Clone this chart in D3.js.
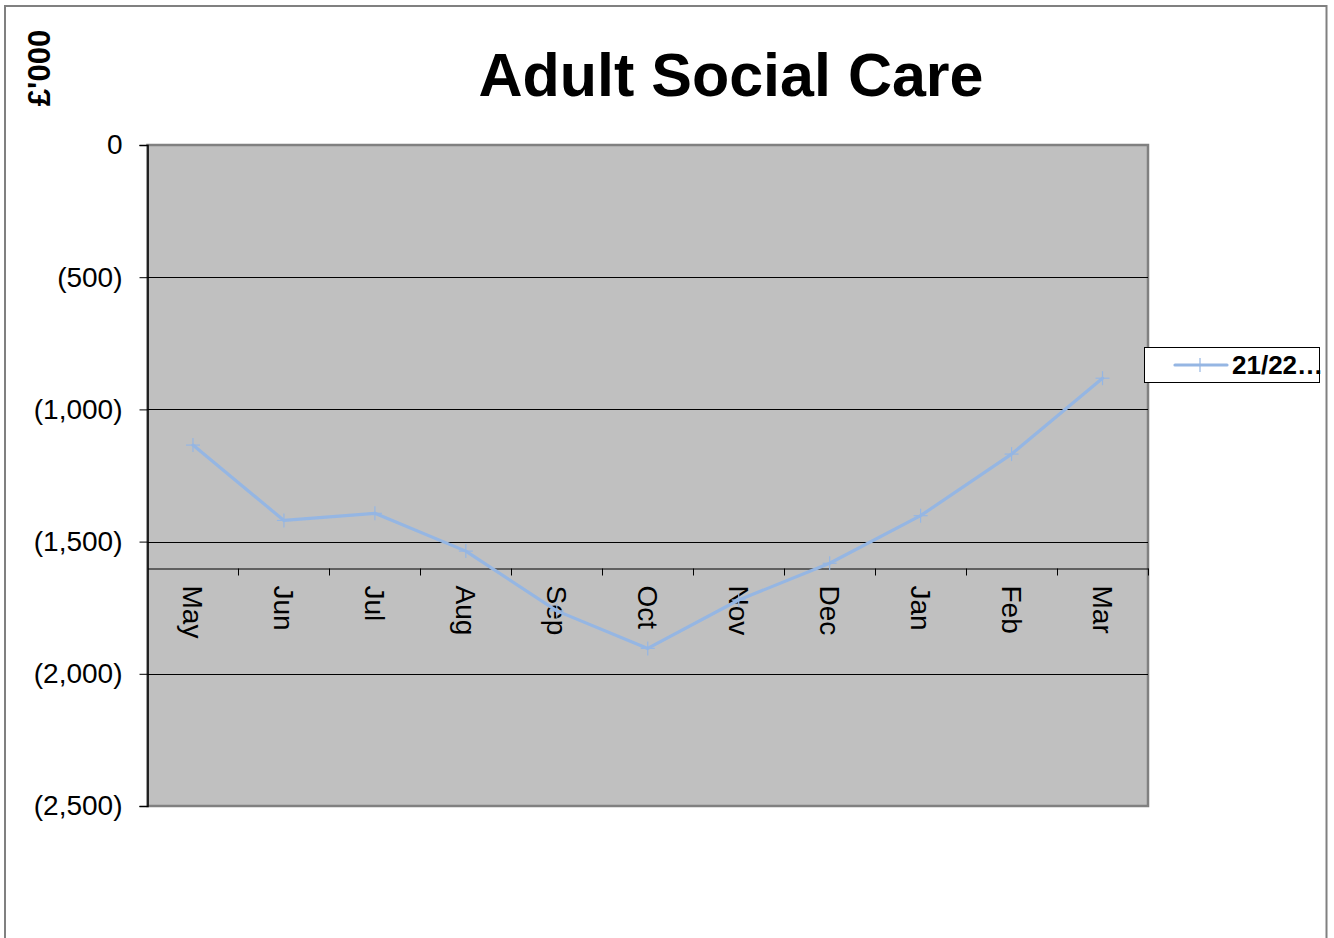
<!DOCTYPE html>
<html>
<head>
<meta charset="utf-8">
<script src="https://cdn.jsdelivr.net/npm/d3@7"></script>
<style>
  html, body { margin: 0; padding: 0; background: #ffffff; }
  svg { display: block; font-family: Arial, "Liberation Sans", sans-serif; }
</style>
</head>
<body>
<svg id="chart" width="1334" height="938"></svg>
<script>
// Monthly variance, Adult Social Care (£'000)
const months = ["May", "Jun", "Jul", "Aug", "Sep", "Oct", "Nov", "Dec", "Jan", "Feb", "Mar"];
const values2122 = [-1135, -1420, -1393, -1536, -1762, -1904, -1721, -1582, -1402, -1169, -882];
const yTicks = [0, -500, -1000, -1500, -2000, -2500];
const seriesName = "21/22…";
const axisCross = -1600;

const svg = d3.select("#chart");
const plot = { left: 147.5, right: 1148, top: 145, bottom: 806 };

const x = d3.scaleBand().domain(months).range([plot.left, plot.right]).padding(0);
const y = d3.scaleLinear().domain([0, -2500]).range([plot.top, plot.bottom]);

// outer chart frame
svg.append("rect")
  .attr("x", 5).attr("y", 6).attr("width", 1321.5).attr("height", 960)
  .attr("fill", "#ffffff").attr("stroke", "#808080").attr("stroke-width", 2);

// title
svg.append("text")
  .attr("x", 731).attr("y", 96)
  .attr("text-anchor", "middle")
  .attr("font-size", 61).attr("font-weight", "bold")
  .text("Adult Social Care");

// y axis title
svg.append("text")
  .attr("transform", "translate(50,68) rotate(-90)")
  .attr("text-anchor", "middle")
  .attr("font-size", 31).attr("font-weight", "bold")
  .text("£'000");

// plot background
svg.append("rect")
  .attr("x", plot.left).attr("y", plot.top)
  .attr("width", plot.right - plot.left).attr("height", plot.bottom - plot.top)
  .attr("fill", "#c0c0c0").attr("stroke", "#808080").attr("stroke-width", 2.5);

// horizontal gridlines
svg.append("g")
  .selectAll("line")
  .data(yTicks.filter(v => v !== 0 && v !== -2500))
  .join("line")
  .attr("x1", plot.left).attr("x2", plot.right)
  .attr("y1", d => Math.round(y(d)) + 0.5).attr("y2", d => Math.round(y(d)) + 0.5)
  .attr("stroke", "#000").attr("stroke-width", 1);

// value axis
const fmt = d3.format(",");
const yAxis = svg.append("g")
  .attr("transform", `translate(${plot.left},0)`)
  .call(d3.axisLeft(y).tickValues(yTicks).tickSize(8).tickPadding(17)
    .tickFormat(v => v < 0 ? `(${fmt(-v)})` : fmt(v)));
yAxis.select(".domain").attr("stroke", "#000").attr("stroke-width", 1.5);
yAxis.selectAll(".tick line").attr("stroke", "#000");
yAxis.selectAll(".tick text").attr("font-size", 28).attr("fill", "#000")
  .attr("font-family", "Arial, 'Liberation Sans', sans-serif");

// category axis crossing at -1600
const yc = Math.round(y(axisCross)) + 0.5;
const xAxis = svg.append("g")
  .attr("transform", `translate(0,${yc})`)
  .call(d3.axisBottom(x).tickSize(0).tickSizeOuter(0));
xAxis.select(".domain").attr("stroke", "#000").attr("stroke-width", 1.2);
xAxis.selectAll(".tick text")
  .attr("font-size", 28).attr("fill", "#000")
  .attr("font-family", "Arial, 'Liberation Sans', sans-serif")
  .attr("text-anchor", "start")
  .attr("transform", "rotate(90)")
  .attr("x", 17).attr("y", 0).attr("dy", "0.35em");

// category boundary ticks
const boundaries = months.map((m, i) => x(m)).slice(1).concat([plot.right]);
xAxis.append("g").selectAll("line")
  .data(boundaries)
  .join("line")
  .attr("x1", d => Math.round(d) + 0.5).attr("x2", d => Math.round(d) + 0.5)
  .attr("y1", 0).attr("y2", 7)
  .attr("stroke", "#000").attr("stroke-width", 1);

// series line
const lineColor = "#95b6e3";
const pts = months.map((m, i) => [x(m) + x.bandwidth() / 2, y(values2122[i])]);
svg.append("path")
  .datum(values2122)
  .attr("fill", "none")
  .attr("stroke", lineColor).attr("stroke-width", 3.2)
  .attr("stroke-linejoin", "round").attr("stroke-linecap", "round")
  .attr("d", d3.line()
    .x((d, i) => x(months[i]) + x.bandwidth() / 2)
    .y(d => y(d)));

// "+" markers
const mk = 7;
const markers = svg.append("g").selectAll("g")
  .data(values2122)
  .join("g")
  .attr("transform", (d, i) => `translate(${x(months[i]) + x.bandwidth() / 2},${y(d)})`);
markers.append("line").attr("x1", -mk).attr("x2", mk).attr("y1", 0).attr("y2", 0)
  .attr("stroke", lineColor).attr("stroke-width", 1.2);
markers.append("line").attr("x1", 0).attr("x2", 0).attr("y1", -mk).attr("y2", mk)
  .attr("stroke", lineColor).attr("stroke-width", 1.2);

// legend
const lg = svg.append("g");
lg.append("rect")
  .attr("x", 1144.5).attr("y", 347.5).attr("width", 175).attr("height", 35)
  .attr("fill", "#ffffff").attr("stroke", "#000").attr("stroke-width", 1);
lg.append("line")
  .attr("x1", 1175).attr("x2", 1227).attr("y1", 365).attr("y2", 365)
  .attr("stroke", lineColor).attr("stroke-width", 3.2).attr("stroke-linecap", "round");
lg.append("line")
  .attr("x1", 1200).attr("x2", 1200).attr("y1", 358).attr("y2", 372)
  .attr("stroke", lineColor).attr("stroke-width", 1.2);
lg.append("text")
  .attr("x", 1232).attr("y", 374)
  .attr("font-size", 26).attr("font-weight", "bold")
  .text(seriesName);
</script>
</body>
</html>
